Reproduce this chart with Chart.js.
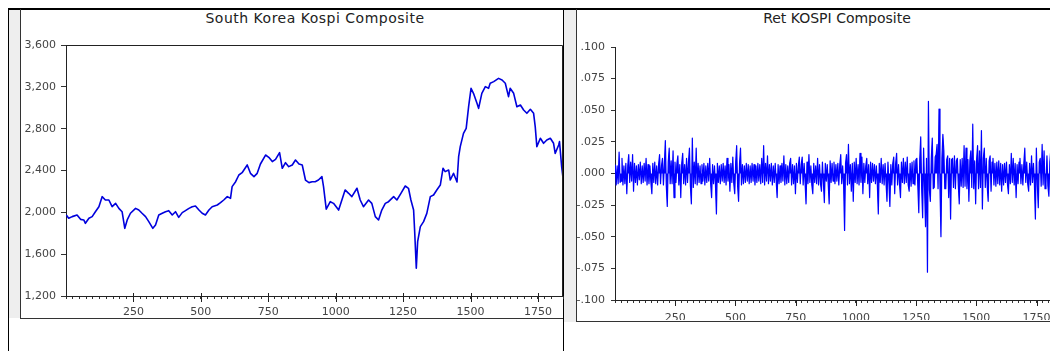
<!DOCTYPE html>
<html><head><meta charset="utf-8">
<script src="https://cdn.jsdelivr.net/npm/chart.js@4.4.1/dist/chart.umd.min.js"></script>
<style>
html,body{margin:0;padding:0;width:1050px;height:351px;overflow:hidden;background:#fff;position:relative;}
.abs{position:absolute;}
.title{position:absolute;font-family:"DejaVu Sans",sans-serif;font-size:14px;line-height:16px;color:#222;white-space:nowrap;transform:translateX(-50%);}
</style></head><body>
<div class="abs" style="left:9px;top:9px;width:11px;height:309px;background:#eeeeee"></div>
<div class="abs" style="left:564px;top:9px;width:12px;height:313px;background:#eeeeee"></div>
<div class="abs" style="left:8px;top:8px;width:1042px;height:2px;background:#000"></div>
<div class="abs" style="left:8px;top:8px;width:1px;height:343px;background:#000"></div>
<div class="abs" style="left:20px;top:9px;width:1px;height:310px;background:#333"></div>
<div class="abs" style="left:20px;top:318px;width:544px;height:1px;background:#333"></div>
<div class="abs" style="left:563px;top:8px;width:1px;height:343px;background:#000"></div>
<div class="abs" style="left:576px;top:9px;width:1px;height:313px;background:#333"></div>
<div class="abs" style="left:576px;top:321px;width:474px;height:1px;background:#333"></div>
<div class="title" style="left:315px;top:10px;letter-spacing:0.5px">South Korea Kospi Composite</div>
<div class="title" style="left:837px;top:10px">Ret KOSPI Composite</div>
<canvas id="c1" width="544" height="288" style="position:absolute;left:21px;top:30px"></canvas>
<canvas id="c2" width="485" height="290" style="position:absolute;left:576px;top:30px"></canvas>
<script>
// ---- data ----
const kospiObs = [1,10,23,41,54,66,72,85,97,109,122,134,146,159,171,184,196,208,218,227,239,258,270,282,295,307,322,332,344,357,369,381,394,406,418,431,443,456,468,480,493,505,517,530,542,561,573,585,598,610,616,629,641,653,672,684,697,709,721,740,752,765,777,792,802,814,826,839,851,864,876,888,901,913,924,936,949,955,965,980,992,1011,1023,1035,1048,1060,1079,1091,1103,1122,1134,1147,1159,1171,1184,1196,1215,1227,1242,1258,1270,1279,1289,1293,1299,1304,1314,1326,1338,1351,1363,1375,1388,1398,1406,1419,1425,1437,1450,1456,1462,1474,1484,1493,1502,1511,1524,1530,1542,1555,1567,1573,1586,1604,1617,1629,1641,1647,1660,1672,1685,1697,1709,1722,1734,1740,1746,1759,1771,1783,1796,1808,1814,1827,1830,1838,1843];
const kospiVal = [1975,1943,1959,1975,1933,1927,1895,1943,1959,2006,2054,2150,2118,2118,2054,2086,2038,2006,1847,1927,1991,2038,2022,1991,1959,1911,1847,1879,1975,1991,2006,2016,1975,2006,1952,1997,2016,2038,2054,2061,2022,1991,1975,2022,2054,2070,2092,2118,2150,2134,2246,2293,2357,2379,2453,2373,2341,2373,2462,2548,2526,2485,2507,2571,2421,2475,2437,2453,2500,2462,2453,2309,2284,2293,2293,2309,2341,2245,2030,2102,2086,2022,2118,2214,2182,2150,2230,2118,2054,2118,2086,1959,1927,2022,2086,2102,2150,2118,2182,2252,2230,2118,2022,1815,1465,1720,1863,1911,1990,2150,2166,2214,2261,2421,2389,2405,2309,2373,2290,2532,2628,2755,2803,3010,3186,3138,3042,2994,3138,3202,3186,3234,3250,3281,3265,3234,3106,3186,3138,3010,3026,2978,2947,2985,2947,2819,2628,2708,2660,2692,2708,2660,2564,2644,2676,2437,2330];
const kospiTicks = [1200,1600,2000,2400,2800,3200,3600];
const retStep = 4; // one value read every 4 observations
const retVal = [
 .007,-.009,.006,-.008,.017,-.007,-.006,.012,-.009,.006,
 -.008,.008,-.016,.006,.015,-.007,.009,-.006,.015,-.014,
 .008,-.007,.006,-.009,.007,-.005,.009,-.008,.006,-.007,
 .008,-.006,.012,-.009,.007,-.008,.006,-.007,-.016,.008,
 -.007,.009,-.008,.006,-.009,.007,.015,-.008,.006,.012,
 -.009,.008,.026,-.010,-.026,.009,.020,-.008,.010,-.008,
 .018,-.019,.009,-.007,.008,.014,-.009,.007,-.019,.008,
 .016,-.008,.007,-.009,.012,-.007,.009,.020,-.010,-.024,
 .028,-.011,.009,-.008,.020,-.009,.008,-.007,.006,-.008,
 .007,-.006,.008,-.009,.006,-.007,.008,-.006,.012,-.008,
 -.019,.007,-.008,.006,-.009,-.032,.008,-.007,.006,-.008,
 .007,-.006,.008,-.007,.006,-.009,.012,-.006,.007,-.014,
 .008,-.007,.013,-.008,-.016,.009,.022,-.010,-.022,.008,
 .020,-.009,.007,-.008,.006,-.007,.008,-.006,.007,-.008,
 .006,-.007,.008,-.006,.007,-.009,.006,-.007,.008,-.006,
 .007,-.008,.012,-.007,.022,-.009,.008,-.006,.014,-.008,
 .007,-.006,.008,-.009,.006,-.007,.008,-.006,-.019,.007,
 -.008,.006,-.007,.008,-.006,.014,-.009,.007,-.008,.006,
 -.007,.008,.012,-.009,.007,-.008,.006,-.016,.008,-.007,
 .006,.013,-.008,.007,.013,-.009,.008,-.007,-.024,.009,
 -.008,.015,-.007,.006,-.009,-.016,.008,-.007,.006,-.008,
 .012,-.009,.007,-.008,-.014,.009,-.007,-.023,.008,-.006,
 .007,-.008,-.024,.010,-.007,.008,-.006,.009,-.008,.007,
 -.006,.008,-.009,.007,.015,-.008,.006,-.009,-.045,.008,
 .015,-.009,.023,-.008,.007,-.014,.008,-.022,.009,-.007,
 .012,-.008,.007,-.009,.016,-.007,.013,-.016,.008,-.007,
 .006,.012,-.008,.007,-.019,.009,-.007,.008,-.006,.007,
 -.008,.006,-.009,-.032,.008,-.007,.012,-.008,.007,-.009,
 .008,-.007,-.022,.009,-.008,-.026,.007,-.009,.008,.013,
 -.016,.008,.016,-.009,.007,-.008,-.019,.009,-.007,.012,
 -.008,.009,-.007,.013,-.009,-.014,.008,-.010,.009,-.008,
 .010,-.009,.011,.012,-.010,-.031,.011,.029,-.012,-.035,
 .020,-.011,-.042,.012,-.078,.057,-.013,-.022,.012,.028,
 -.012,-.011,.013,.015,.023,-.012,.051,-.011,-.050,.012,
 .031,.018,-.012,-.012,.011,.014,-.019,.012,-.036,.011,
 .012,-.011,.014,-.012,.010,.012,-.009,-.024,.011,-.010,
 .012,-.011,.022,-.010,.020,-.012,.011,-.022,.010,.018,
 -.011,.039,-.012,.010,-.024,.011,.022,-.012,.018,-.011,
 .034,-.028,.012,.020,-.011,.012,-.010,-.022,.010,.014,
 -.014,.009,.012,-.009,.008,-.010,.009,-.008,.010,-.009,
 .008,-.014,.007,-.009,.008,-.007,.009,-.008,-.016,.007,
 -.008,.016,-.007,.012,-.009,.008,-.019,.007,-.008,.009,
 .012,-.008,.007,-.009,.008,.020,-.007,.009,-.008,-.014,
 .008,-.009,.014,-.007,.008,-.009,-.036,.020,-.009,-.027,
 .009,.012,-.010,.023,-.009,.018,-.012,-.008,.014,-.010,
 -.018,.009,.019,-.010,.008,-.015,.009,-.008,.012,-.009,
 .008];
const retTicks = [-.100,-.075,-.050,-.025,0,.025,.050,.075,.100];
const obsTicks = [250,500,750,1000,1250,1500,1750];
const obsMax = 1843;

// ---- helpers ----
const tickFont = {family: '"DejaVu Sans", sans-serif', size: 11};
const fmtLevel = v => { const s = String(Math.round(v)); return s.length > 3 ? s.slice(0, -3) + ',' + s.slice(-3) : s; };
const fmtRet = v => (v < -1e-9 ? '-' : '') + Math.abs(v).toFixed(3).replace(/^0/, '');

const axisDeco = {
  id: 'axisDeco',
  afterDraw(chart, args, opts) {
    const {ctx, chartArea: a} = chart;
    const x = chart.scales.x;
    ctx.save();
    ctx.strokeStyle = '#222';
    ctx.lineWidth = 1;
    if (opts.frame) {
      ctx.beginPath();
      ctx.moveTo(a.left, a.top + 0.5);
      ctx.lineTo(a.right - 0.5, a.top + 0.5);
      ctx.lineTo(a.right - 0.5, a.bottom);
      ctx.stroke();
    }
    obsTicks.forEach(v => {
      const px = Math.round(x.getPixelForValue(v)) + 0.5;
      ctx.beginPath();
      ctx.moveTo(px, a.bottom - opts.up);
      ctx.lineTo(px, a.bottom + 6);
      ctx.stroke();
    });
    ctx.restore();
  }
};

function xScale(h, pad) {
  return {
    type: 'linear', min: 0, max: obsMax,
    afterFit: s => { s.height = h; s.paddingLeft = 0; s.paddingRight = 0; },
    grid: {display: true, drawOnChartArea: false, drawTicks: true, tickLength: 3, tickColor: '#333', color: '#333'},
    border: {display: true, color: '#222', width: 1},
    ticks: {stepSize: 25, autoSkip: false, maxRotation: 0, minRotation: 0, padding: pad, color: '#444', font: tickFont,
      callback: v => obsTicks.includes(v) ? String(v) : ''}
  };
}

Chart.defaults.animation = false;

new Chart(document.getElementById('c1'), {
  type: 'line',
  data: {datasets: [{
    data: kospiObs.map((o, i) => ({x: o, y: kospiVal[i]})),
    borderColor: '#0000dd', borderWidth: 1.6, pointRadius: 0, tension: 0, borderJoinStyle: 'round'
  }]},
  options: {
    responsive: false, animation: false,
    layout: {padding: {top: 15, right: 2, left: 0, bottom: 0}},
    plugins: {legend: {display: false}, tooltip: {enabled: false}, axisDeco: {frame: true, up: 3}},
    scales: {
      x: xScale(22, 7),
      y: {
        type: 'linear', min: 1200, max: 3600,
        afterFit: s => { s.width = 45; },
        afterBuildTicks: s => { s.ticks = kospiTicks.map(v => ({value: v})); },
        grid: {display: true, drawOnChartArea: false, tickLength: 5, tickColor: '#333'},
        border: {display: true, color: '#222', width: 1},
        ticks: {padding: 5, color: '#444', font: tickFont, callback: v => fmtLevel(v)}
      }
    }
  },
  plugins: [axisDeco]
});

new Chart(document.getElementById('c2'), {
  type: 'line',
  data: {datasets: [{
    data: retVal.map((r, i) => ({x: 1 + retStep * i, y: r})),
    borderColor: '#0000ff', backgroundColor: '#0000ff', fill: 'origin',
    borderWidth: 1.2, pointRadius: 0, tension: 0, borderJoinStyle: 'round'
  }]},
  options: {
    responsive: false, animation: false,
    layout: {padding: {top: 17, right: 2, left: 0, bottom: 0}},
    plugins: {legend: {display: false}, tooltip: {enabled: false}, axisDeco: {frame: false, up: 0}},
    scales: {
      x: xScale(20, 9),
      y: {
        type: 'linear', min: -0.1, max: 0.1,
        afterFit: s => { s.width = 39; },
        afterBuildTicks: s => { s.ticks = retTicks.map(v => ({value: v})); },
        grid: {display: true, drawOnChartArea: false, tickLength: 4, tickColor: '#333'},
        border: {display: true, color: '#222', width: 1},
        ticks: {padding: 6, color: '#444', font: tickFont, callback: v => fmtRet(v)}
      }
    }
  },
  plugins: [axisDeco]
});
</script>
</body></html>
